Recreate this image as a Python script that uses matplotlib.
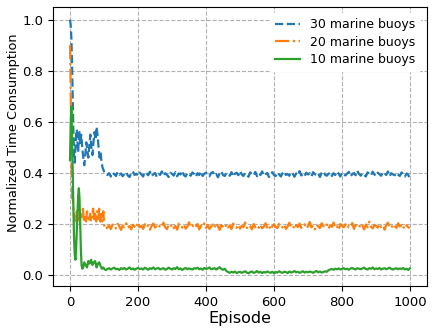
import matplotlib
matplotlib.use("Agg")
import matplotlib.pyplot as plt

# ---------------- data ----------------
tail_ep = list(range(110, 1000, 5)) + [999]

ep30 = [0, 2, 4, 6, 8, 10, 12, 14, 16, 18, 20, 22, 24, 26, 28, 30, 33, 36, 39, 42,
        45, 48, 51, 54, 57, 60, 63, 66, 69, 72, 75, 78, 81, 84, 87, 90, 93, 96, 99, 102, 105] + tail_ep
v30 = [1.0, 0.98, 0.93, 0.83, 0.70, 0.56, 0.47, 0.44, 0.50, 0.55, 0.57, 0.52, 0.48, 0.54, 0.56,
       0.51, 0.55, 0.50, 0.46, 0.43, 0.47, 0.52, 0.49, 0.46, 0.51, 0.55, 0.50, 0.47, 0.52, 0.56,
       0.53, 0.58, 0.55, 0.50, 0.46, 0.48, 0.44, 0.42, 0.41, 0.40, 0.395,
       .392, .399, .386, .401, .395, .388, .404, .393, .398, .387,
       .396, .403, .390, .384, .399, .406, .392, .397, .389, .401,
       .394, .386, .402, .398, .391, .405, .388, .395, .400, .385,
       .397, .392, .406, .389, .399, .393, .384, .401, .396, .390,
       .403, .387, .398, .394, .408, .391, .386, .400, .395, .389,
       .402, .396, .385, .399, .392, .405, .388, .397, .401, .393,
       .387, .399, .404, .390, .396, .383, .398, .406, .392, .388,
       .400, .395, .389, .403, .386, .397, .401, .391, .407, .394,
       .388, .399, .393, .385, .402, .396, .390, .404, .387, .398,
       .392, .406, .389, .395, .400, .384, .397, .403, .391, .388,
       .401, .394, .386, .399, .405, .392, .396, .389, .402, .397,
       .385, .398, .393, .407, .390, .396, .388, .401, .394, .399,
       .387, .403, .395, .391, .398, .384, .400, .406, .393, .389,
       .396, .402, .388, .399, .392, .405, .397, .386, .401, .394,
       .390, .398, .404, .387, .395, .400, .391, .408, .396, .389,
       .399, .393, .386, .402, .397, .390, .405, .394, .388, .401,
       .395, .389, .403, .398, .392, .406, .387, .399, .394, .391,
       .400, .393, .388, .402, .396, .386, .398, .392, .380]

ep20 = [0, 1, 2, 3, 4, 5, 6, 7, 8, 9, 10, 12, 14, 16, 18, 20, 23, 26, 29, 32, 35, 38, 41,
        44, 47, 50, 53, 56, 59, 62, 65, 68, 71, 74, 77, 80, 83, 86, 89, 92, 95, 98, 101, 104] + tail_ep
v20 = [0.90, 0.84, 0.72, 0.62, 0.50, 0.40, 0.33, 0.30, 0.34, 0.29, 0.27, 0.23, 0.21, 0.24,
       0.22, 0.25, 0.21, 0.23, 0.21, 0.24, 0.22, 0.26, 0.21, 0.23, 0.21, 0.25, 0.22, 0.21,
       0.24, 0.21, 0.23, 0.26, 0.21, 0.24, 0.21, 0.25, 0.22, 0.26, 0.21, 0.24, 0.21, 0.25,
       0.19, 0.18,
       .186, .195, .180, .198, .189, .183, .201, .191, .177, .194,
       .188, .203, .185, .192, .179, .197, .190, .184, .206, .187,
       .193, .181, .199, .188, .195, .178, .192, .202, .186, .190,
       .183, .197, .191, .205, .187, .180, .196, .189, .199, .184,
       .192, .178, .201, .194, .186, .198, .182, .190, .207, .188,
       .195, .184, .191, .200, .179, .193, .187, .203, .185, .196,
       .181, .190, .198, .186, .204, .192, .177, .195, .189, .183,
       .199, .187, .194, .180, .202, .190, .185, .197, .182, .193,
       .188, .206, .184, .196, .191, .179, .200, .187, .194, .185,
       .197, .183, .190, .203, .186, .195, .178, .192, .199, .188,
       .184, .201, .193, .187, .198, .181, .190, .205, .189, .194,
       .180, .196, .188, .202, .185, .193, .199, .183, .191, .208,
       .187, .194, .179, .197, .190, .184, .203, .192, .186, .198,
       .182, .195, .189, .206, .185, .191, .177, .200, .193, .187,
       .199, .184, .192, .188, .204, .181, .196, .190, .186, .202,
       .193, .179, .198, .187, .209, .190, .183, .197, .192, .186,
       .201, .188, .194, .178, .196, .205, .189, .184, .199, .191,
       .185, .203, .190, .196, .182, .200, .194, .187, .184]

ep10 = [0, 2, 4, 6, 8, 10, 12, 14, 16, 18, 20, 22, 24, 26, 28, 30, 32, 34, 36, 39, 42,
        46, 50, 54, 58, 62, 66, 70, 74, 78, 82, 86, 90, 94, 98, 102, 106] + tail_ep
v10 = [0.45, 0.58, 0.66, 0.55, 0.40, 0.26, 0.14, 0.08, 0.06, 0.10, 0.17, 0.25, 0.31, 0.34,
       0.30, 0.20, 0.10, 0.04, 0.025, 0.03, 0.05, 0.04, 0.03, 0.055, 0.045, 0.06, 0.04,
       0.05, 0.055, 0.03, 0.045, 0.05, 0.035, 0.025, 0.03, 0.022, 0.02,
       .024, .027, .022, .026, .029, .023, .025, .020, .027, .024,
       .028, .022, .025, .030, .023, .026, .021, .025, .028, .024,
       .026, .022, .029, .025, .021, .027, .024, .030, .023, .026,
       .028, .022, .025, .027, .021, .024, .029, .025, .022, .027,
       .024, .031, .023, .026, .020, .025, .028, .023, .026, .024,
       .022, .027, .025, .029, .023, .026, .021, .028, .024, .026,
       .030, .023, .025, .027, .022, .026, .031, .024, .021, .025,
       .016, .012, .009, .013, .010, .014, .008, .011, .013, .009,
       .012, .015, .010, .007, .012, .014, .009, .011, .016, .010,
       .013, .008, .012, .010, .014, .011, .009, .013, .007, .012,
       .010, .015, .011, .009, .013, .012, .008, .014, .010, .012,
       .016, .011, .013, .009, .012, .015, .010, .013, .011, .014,
       .012, .009, .013, .016, .011, .014, .010, .012, .015, .013,
       .019, .022, .024, .021, .025, .023, .026, .022, .024, .027,
       .023, .025, .021, .026, .028, .024, .022, .027, .025, .023,
       .026, .029, .024, .022, .027, .025, .030, .023, .026, .024,
       .028, .022, .025, .027, .023, .026, .029, .024, .022, .025,
       .027, .023, .026, .024, .028, .022, .025, .020, .026]

labels = ["30 marine buoys", "20 marine buoys", "10 marine buoys"]

# ---------------- plot ----------------
fig = plt.figure(figsize=(4.36, 3.34), dpi=100)
ax = fig.add_axes([53 / 436, 1 - 286 / 334, (426.7 - 53) / 436, (286 - 7) / 334])

ax.plot(ep30, v30, linestyle="--", color="C0", lw=1.6, label=labels[0])
ax.plot(ep20, v20, linestyle="-.", color="C1", lw=1.6, label=labels[1])
ax.plot(ep10, v10, linestyle="-", color="C2", lw=1.6, label=labels[2])

ax.grid(True, linestyle="--", color="#b0b0b0", lw=0.8)
ax.set_axisbelow(True)
ax.set_xlabel("Episode", fontsize=11.5, labelpad=2)
ax.set_ylabel("Normalized Time Consumption", fontsize=9.3)
ax.yaxis.set_label_coords(-0.088, 0.548)
ax.tick_params(labelsize=9.5)
leg = ax.legend(loc="upper right", fontsize=9, frameon=True, framealpha=1,
                edgecolor="white", facecolor="white", labelspacing=0.35)

fig.savefig("out.png", dpi=100)
